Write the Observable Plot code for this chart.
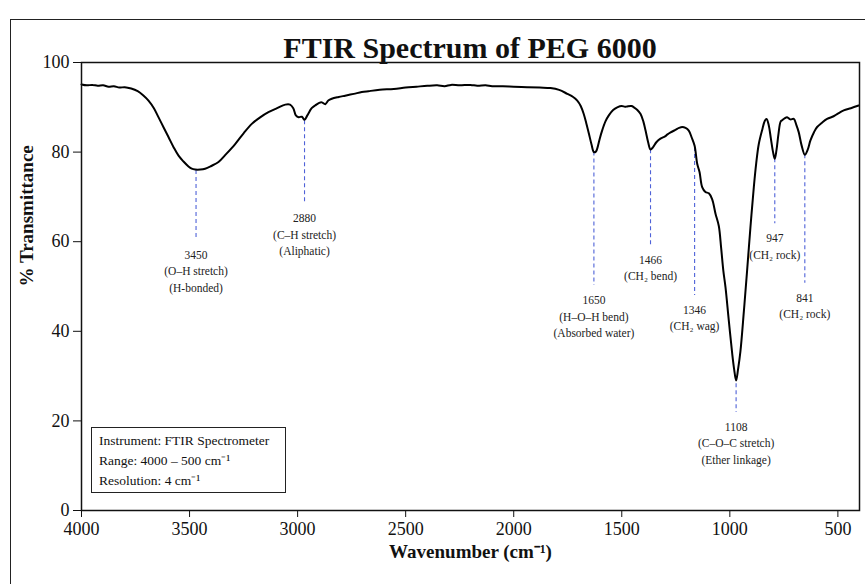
<!DOCTYPE html>
<html>
<head>
<meta charset="utf-8">
<script src="https://cdn.jsdelivr.net/npm/d3@7"></script>
<script src="https://cdn.jsdelivr.net/npm/@observablehq/plot@0.6"></script>
<style>
  body { margin: 0; background: white; }
  #wrap { position: relative; width: 865px; height: 584px; overflow: hidden; background: white; font-family: "Liberation Serif", "Times New Roman", serif; }
  #border { position: absolute; left: 10px; top: 19px; width: 880px; height: 600px; border: 1.5px solid #222; pointer-events: none; }
  #title { position: absolute; left: 75px; width: 790px; top: 31px; text-align: center; font-weight: bold; font-size: 30px; line-height: 34px; color: #111; }
  #info { position: absolute; left: 91px; top: 427px; width: 186px; height: 61px; border: 1.2px solid #222; padding: 3px 0 0 7px; font-size: 13.5px; line-height: 20px; color: #111; background: white; }
  #chart { position: absolute; left: 0; top: 0; }
</style>
</head>
<body>
<div id="wrap">
  <div id="chart"></div>
  <div id="border"></div>
  <div id="title">FTIR Spectrum of PEG 6000</div>
  <div id="info">Instrument: FTIR Spectrometer<br>Range: 4000 – 500 cm⁻¹<br>Resolution: 4 cm⁻¹</div>
</div>
<script>
// Spectrum (wavenumber in cm⁻¹, % transmittance)
const wavenumber = [
  4000, 3975, 3950, 3925, 3900, 3875, 3850, 3825, 3800, 3770, 3740, 3715, 3690, 3665, 3644, 3620, 3597, 3574, 3551, 3528,
  3505, 3490, 3474, 3450, 3428, 3400, 3366, 3330, 3289, 3250, 3212, 3175, 3135, 3095, 3057, 3035, 3020, 3008, 2995, 2980,
  2968, 2955, 2935, 2919, 2900, 2888, 2872, 2858, 2842, 2810, 2780, 2740, 2703, 2672, 2620, 2555, 2500, 2450, 2400, 2354,
  2320, 2290, 2250, 2200, 2169, 2130, 2100, 2050, 2000, 1938, 1880, 1830, 1790, 1752, 1725, 1706, 1690, 1676, 1664, 1652,
  1640, 1629, 1620, 1614, 1602, 1591, 1575, 1560, 1540, 1521, 1500, 1485, 1475, 1455, 1444, 1428, 1413, 1400, 1390, 1378,
  1367, 1355, 1340, 1321, 1300, 1290, 1274, 1250, 1235, 1220, 1205, 1190, 1176, 1163, 1151, 1140, 1128, 1113, 1097, 1082,
  1066, 1051, 1040, 1030, 1020, 1005, 989, 980, 971, 962, 951, 935, 920, 905, 889, 878, 866, 850, 838, 830,
  820, 810, 800, 792, 784, 775, 765, 758, 745, 735, 720, 704, 692, 681, 668, 653, 640, 627, 610, 596,
  575, 550, 520, 500, 473, 440, 404
];
const transmittance = [
  95.1, 94.9, 95.0, 94.8, 94.9, 94.6, 94.7, 94.4, 94.5, 94.2, 93.6, 92.7, 91.5, 89.8, 87.8, 85.5, 83.3, 81.1, 79.2, 77.9,
  76.8, 76.3, 76.1, 76.1, 76.3, 76.9, 77.8, 79.6, 81.8, 84.2, 86.3, 87.7, 88.9, 89.8, 90.6, 90.6, 89.8, 88.2, 87.8, 87.9,
  87.2, 88.2, 89.8, 90.4, 91.0, 91.1, 90.7, 91.5, 91.9, 92.3, 92.6, 93.0, 93.4, 93.6, 93.9, 94.1, 94.4, 94.6, 94.8, 94.9,
  94.7, 95.0, 94.9, 95.0, 94.8, 94.9, 94.7, 94.7, 94.6, 94.5, 94.4, 94.3, 93.9, 93.0, 92.3, 91.5, 90.3, 88.5, 86.4, 84.1,
  81.7, 80.0, 80.1, 80.7, 83.0, 84.8, 86.9, 88.2, 89.4, 90.0, 90.3, 90.1, 90.2, 90.3, 90.0, 89.4, 88.5, 86.8, 84.8, 82.2,
  80.6, 81.1, 82.2, 83.0, 83.5, 83.9, 84.4, 85.0, 85.4, 85.6, 85.4, 84.8, 83.2, 81.4, 77.4, 75.5, 72.2, 71.1, 70.8, 69.5,
  66.2, 63.5, 58.5, 53.5, 49.8, 42.5, 35.0, 31.5, 29.0, 31.5, 35.5, 44.5, 53.6, 63.0, 72.2, 77.5, 81.8, 85.0, 87.0, 87.4,
  86.0, 83.0, 80.0, 78.5, 80.5, 84.0, 86.8, 87.1, 87.6, 87.8, 87.3, 87.4, 86.0, 84.4, 81.5, 79.4, 80.5, 82.6, 84.5, 85.6,
  86.5, 87.4, 88.0, 88.6, 89.3, 89.8, 90.4
];

// Peak annotations
const peakLabels = ["3450", "2880", "1650", "1466", "1346", "1108", "947", "841"];
const peakNotes = [
  "(O–H stretch)\n(H-bonded)",
  "(C–H stretch)\n(Aliphatic)",
  "(H–O–H bend)\n(Absorbed water)",
  "(CH₂ bend)",
  "(CH₂ wag)",
  "(C–O–C stretch)\n(Ether linkage)",
  "(CH₂ rock)",
  "(CH₂ rock)"
];
const peakPositions = [3470, 2968, 1629, 1367, 1163, 971, 792, 653];
const peakTop = [75.9, 87.0, 80.0, 80.5, 81.0, 28.3, 78.5, 79.4];
const peakBottom = [60.3, 68.5, 50.2, 59.2, 48.0, 21.9, 64.0, 50.7];

const xTicks = [4000, 3500, 3000, 2500, 2000, 1500, 1000, 500];
const yTicks = [0, 20, 40, 60, 80, 100];

const spectrum = wavenumber.map((w, i) => ({w, t: transmittance[i]}));
const peaks = peakLabels.map((l, i) => ({
  label: l + "\n" + peakNotes[i],
  pos: peakPositions[i],
  top: peakTop[i],
  bottom: peakBottom[i]
}));

const serif = "'Liberation Serif', 'Times New Roman', serif";

const chart = Plot.plot({
  width: 865,
  height: 584,
  marginLeft: 81,
  marginRight: 6,
  marginTop: 62,
  marginBottom: 74,
  style: {fontFamily: serif, fontSize: "18px", color: "#111", background: "transparent"},
  x: {domain: [4000, 400]},
  y: {domain: [0, 100]},
  marks: [
    Plot.axisX({ticks: xTicks, tickSize: 7, tickPadding: 5, label: null, tickFormat: d => `${d}`}),
    Plot.axisY({ticks: yTicks, tickSize: 8, tickPadding: 4, label: null}),
    Plot.ruleX(peaks, {x: "pos", y1: "top", y2: "bottom", stroke: "#4f62d8", strokeWidth: 1.1, strokeDasharray: "4,3"}),
    Plot.line(spectrum, {x: "w", y: "t", curve: "catmull-rom", stroke: "#000", strokeWidth: 2}),
    Plot.text(peaks, {x: "pos", y: "bottom", text: "label", lineAnchor: "top", dy: 7, fontSize: 11.5, lineHeight: 1.42, fill: "#222"}),
    Plot.frame({stroke: "#111", strokeWidth: 1.5}),
    Plot.text(["% Transmittance"], {text: d => d, frameAnchor: "left", rotate: -90, dx: -55, fontWeight: "bold", fontSize: 19}),
    Plot.text(["Wavenumber (cm⁻¹)"], {text: d => d, frameAnchor: "bottom", dy: 47, fontWeight: "bold", fontSize: 19})
  ]
});
document.getElementById("chart").appendChild(chart);
</script>
</body>
</html>
